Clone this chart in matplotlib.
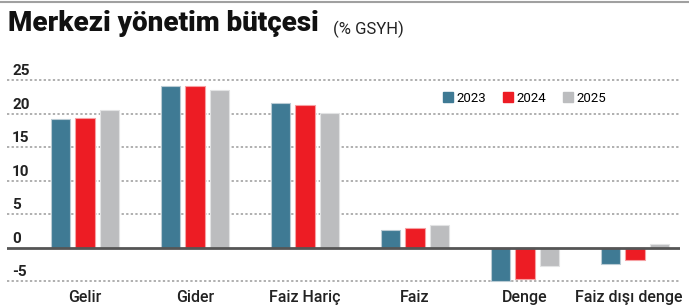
import numpy as np
import matplotlib.pyplot as plt
import matplotlib.transforms as mtransforms
from matplotlib.lines import Line2D

# --- data (% GSYH) ---
categories = ["Gelir", "Gider", "Faiz Hariç", "Faiz", "Denge", "Faiz dışı denge"]
years = ["2023", "2024", "2025"]
v2023 = [19.2, 24.2, 21.7, 2.6, -5.0, -2.5]
v2024 = [19.4, 24.1, 21.3, 2.9, -4.7, -1.8]
v2025 = [20.6, 23.5, 20.2, 3.3, -2.8, 0.5]
yticks = [25, 20, 15, 10, 5, 0, -5]

colors = ["#3f7a94", "#ed1c24", "#bcbdbf"]
edges = ["#b9cbd4", "#f6a0a3", "#e2e3e4"]

plt.rcParams["font.family"] = ["Roboto", "DejaVu Sans"]

fig = plt.figure(figsize=(6.89, 3.08), dpi=100)
ax = fig.add_axes([7 / 689, 0.0662, 673 / 689, 0.716])

x = np.arange(len(categories))
step = 0.223
width = 0.175
for i, (vals, c, ec) in enumerate(zip([v2023, v2024, v2025], colors, edges)):
    ax.bar(x + (i - 1) * step, vals, width, color=c, edgecolor=ec,
           linewidth=0.8, zorder=3)

# dotted gridlines + labels sitting above them
for v in yticks:
    if v == 0:
        ax.axhline(0, color="#555555", linewidth=2, zorder=4)
    else:
        ax.axhline(v, color="#9a9a9a", linewidth=1.1, linestyle=(0, (1.5, 1.5)),
                   zorder=1)
    ax.text(0.0075, v + 0.3, str(v), transform=ax.get_yaxis_transform(),
            ha="left", va="bottom", fontsize=11, fontweight="bold",
            color="#222222")

ax.set_xlim(-0.71, 5.41)
ax.set_ylim(-6, 27)
ax.set_xticks(x)
ax.set_xticklabels(categories, fontsize=11.5, color="#222222", fontweight="medium")
ax.tick_params(axis="x", length=0, pad=2)
# last label sits a bit left of its group, as in the original
last = ax.get_xticklabels()[-1]
last.set_transform(last.get_transform() +
                   mtransforms.ScaledTranslation(-6 / 100, 0, fig.dpi_scale_trans))
ax.set_yticks([])
for s in ax.spines.values():
    s.set_visible(False)

handles = [Line2D([], [], marker="s", linestyle="", markersize=7.5,
                  color=c) for c in colors]
ax.legend(handles, years, loc="upper left", bbox_to_anchor=(0.639, 0.911),
          ncol=3, frameon=False, fontsize=9.5, handlelength=0.8,
          handletextpad=0.3, columnspacing=1.2, borderaxespad=0)

# title
fig.add_artist(Line2D([0, 1], [1 - 1.5 / 308, 1 - 1.5 / 308],
                      color="#a0a0a0", linewidth=1.5))
fig.text(8 / 689, 1 - 31 / 308, "Merkezi yönetim bütçesi", fontsize=20,
         fontweight="black", color="#111111", va="baseline")
fig.text(333 / 689, 1 - 34 / 308, "(% GSYH)", fontsize=12, color="#222222",
         va="baseline")

fig.savefig("out.png", dpi=100)
